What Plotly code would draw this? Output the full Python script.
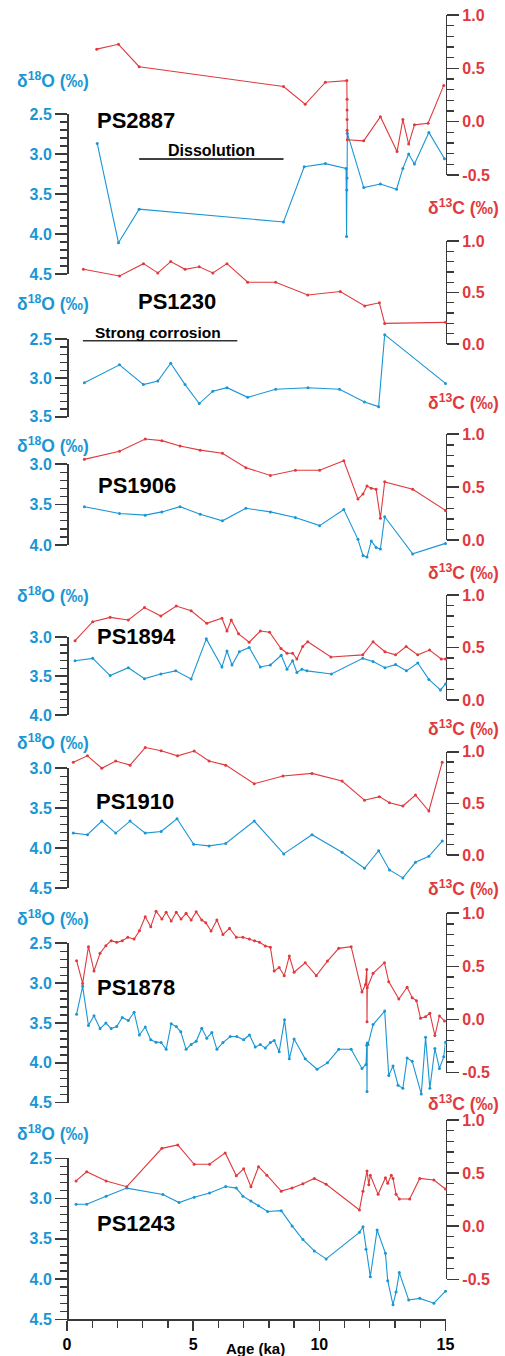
import numpy as np
import plotly.graph_objects as go

# ---------------- data (ages in ka, isotopes in permil) ----------------
x_ticks = [0, 5, 10, 15]

age_2887_c = [1.18, 2.04, 2.86, 8.58, 9.44, 10.24, 11.09, 11.10, 11.10, 11.10, 11.10, 11.11,
              11.76, 12.42, 13.08, 13.31, 13.54, 13.77, 14.31, 14.93]
d13c_2887 = [0.68, 0.725, 0.515, 0.33, 0.163, 0.37, 0.385, 0.21, 0.11, 0.02, -0.08, -0.17,
             -0.18, 0.047, -0.28, 0.02, -0.21, -0.03, -0.015, 0.34]
age_2887_o = [1.2, 2.04, 2.86, 8.58, 9.4, 10.24, 11.06, 11.08, 11.09, 11.10, 11.11, 11.76,
              12.42, 13.06, 13.31, 13.54, 13.77, 14.34, 14.96]
d18o_2887 = [2.87, 4.11, 3.69, 3.85, 3.16, 3.12, 3.18, 4.03, 3.45, 3.3, 2.74, 3.42,
             3.375, 3.44, 3.18, 3.0, 3.125, 2.73, 3.06]

age_1230_c = [0.65, 2.08, 3.03, 3.6, 4.11, 4.68, 5.24, 5.78, 6.34, 7.16, 8.27, 9.54,
              10.83, 11.8, 12.38, 12.59, 15.0]
d13c_1230 = [0.725, 0.66, 0.78, 0.69, 0.80, 0.725, 0.75, 0.69, 0.78, 0.60, 0.60, 0.476,
             0.51, 0.37, 0.40, 0.20, 0.21]
age_1230_o = [0.69, 2.08, 3.03, 3.6, 4.11, 4.68, 5.24, 5.78, 6.34, 7.16, 8.27, 9.55,
              10.8, 11.79, 12.35, 12.59, 15.0]
d18o_1230 = [3.06, 2.83, 3.085, 3.04, 2.81, 3.085, 3.33, 3.17, 3.125, 3.25, 3.146, 3.125,
             3.146, 3.31, 3.37, 2.44, 3.07]

age_1906 = [0.69, 2.08, 3.1, 3.76, 4.48, 5.28, 6.16, 7.09, 8.06, 9.05, 10.01, 10.97,
            11.53, 11.73, 11.89, 12.06, 12.25, 12.42, 12.59, 13.7, 15.0]
d13c_1906 = [0.763, 0.84, 0.955, 0.94, 0.89, 0.85, 0.82, 0.684, 0.61, 0.66, 0.66, 0.75,
             0.388, 0.435, 0.51, 0.49, 0.48, 0.205, 0.55, 0.48, 0.28]
d18o_1906 = [3.525, 3.61, 3.63, 3.59, 3.525, 3.62, 3.70, 3.545, 3.59, 3.66, 3.76, 3.56,
             3.93, 4.13, 4.15, 3.95, 4.03, 4.05, 3.65, 4.11, 3.98]

age_1894_c = [0.32, 1.02, 1.71, 2.43, 3.07, 3.72, 4.33, 4.92, 5.54, 6.14, 6.34, 6.51,
              6.8, 7.22, 7.66, 8.03, 8.48, 8.72, 8.94, 9.11, 9.34, 9.54, 10.46, 11.72,
              12.13, 12.6, 13.02, 13.44, 13.9, 14.37, 14.83, 15.0]
d13c_1894 = [0.565, 0.746, 0.787, 0.762, 0.88, 0.80, 0.895, 0.85, 0.73, 0.778, 0.657, 0.762,
             0.63, 0.55, 0.657, 0.645, 0.49, 0.445, 0.445, 0.39, 0.51, 0.555, 0.41, 0.43,
             0.555, 0.46, 0.43, 0.51, 0.43, 0.476, 0.39, 0.39]
age_1894_o = [0.32, 1.02, 1.71, 2.43, 3.07, 3.72, 4.31, 4.92, 5.52, 6.14, 6.34, 6.54,
              6.83, 7.22, 7.66, 8.06, 8.49, 8.72, 8.94, 9.11, 9.31, 9.51, 10.48, 11.72,
              12.13, 12.6, 13.02, 13.45, 13.9, 14.34, 14.8, 15.0]
d18o_1894 = [3.30, 3.27, 3.49, 3.39, 3.53, 3.47, 3.43, 3.535, 3.02, 3.38, 3.175, 3.355,
             3.185, 3.13, 3.38, 3.355, 3.23, 3.41, 3.30, 3.45, 3.41, 3.43, 3.47, 3.27,
             3.31, 3.39, 3.35, 3.43, 3.33, 3.54, 3.675, 3.60]

age_1910_c = [0.25, 0.81, 1.38, 1.93, 2.5, 3.1, 3.73, 4.38, 5.04, 5.63, 6.29, 7.42,
              8.56, 9.71, 10.9, 11.79, 12.38, 12.78, 13.31, 13.81, 14.34, 14.87]
d13c_1910 = [0.897, 0.96, 0.84, 0.91, 0.87, 1.04, 1.01, 0.96, 1.007, 0.91, 0.87, 0.69,
             0.765, 0.79, 0.716, 0.53, 0.565, 0.506, 0.474, 0.58, 0.426, 0.897]
age_1910_o = [0.25, 0.81, 1.38, 1.93, 2.5, 3.1, 3.73, 4.36, 5.02, 5.63, 6.29, 7.42,
              8.59, 9.71, 10.9, 11.79, 12.35, 12.78, 13.31, 13.81, 14.34, 14.87]
d18o_1910 = [3.81, 3.83, 3.66, 3.81, 3.66, 3.81, 3.79, 3.63, 3.95, 3.97, 3.94, 3.66,
             4.07, 3.83, 4.05, 4.25, 4.03, 4.27, 4.37, 4.175, 4.10, 3.91]

age_1878_c = [0.38, 0.62, 0.85, 1.07, 1.31, 1.54, 1.75, 1.97, 2.19, 2.41, 2.66, 2.87,
              3.1, 3.32, 3.53, 3.76, 3.93, 4.13, 4.33, 4.52, 4.72, 4.92, 5.12, 5.34,
              5.5, 5.71, 5.94, 6.18, 6.44, 6.71, 6.97, 7.23, 7.43, 7.63, 7.86, 8.06,
              8.21, 8.41, 8.61, 8.81, 9.0, 9.44, 9.88, 10.32, 10.77, 11.26, 11.69, 11.83,
              11.88, 11.89, 11.90, 12.13, 12.58, 12.75, 13.15, 13.48, 13.68, 13.85, 14.01,
              14.21, 14.38, 14.58, 14.76, 14.96]
d13c_1878 = [0.554, 0.34, 0.686, 0.457, 0.624, 0.695, 0.742, 0.727, 0.742, 0.774, 0.758, 0.836,
             0.968, 0.874, 1.02, 0.946, 1.01, 0.928, 1.01, 0.946, 1.0, 0.937, 1.015, 0.937,
             0.912, 0.834, 0.937, 0.80, 0.859, 0.774, 0.774, 0.758, 0.742, 0.727, 0.692, 0.68,
             0.457, 0.49, 0.413, 0.598, 0.445, 0.535, 0.413, 0.55, 0.67, 0.686, 0.26, 0.33,
             0.47, -0.02, 0.30, 0.436, 0.535, 0.357, 0.194, 0.304, 0.206, 0.178, 0.012,
             0.027, 0.06, -0.15, 0.034, -0.013]
age_1878_o = [0.38, 0.62, 0.85, 1.07, 1.31, 1.54, 1.75, 1.97, 2.19, 2.43, 2.66, 2.87,
              3.1, 3.32, 3.53, 3.73, 3.93, 4.13, 4.33, 4.51, 4.72, 4.92, 5.12, 5.34,
              5.54, 5.74, 5.94, 6.18, 6.47, 6.73, 7.0, 7.23, 7.46, 7.66, 7.86, 8.06,
              8.21, 8.41, 8.62, 8.81, 9.0, 9.44, 9.91, 10.32, 10.77, 11.26, 11.69, 11.85,
              11.88, 11.89, 11.90, 11.93, 12.13, 12.59, 12.75, 12.92, 13.12, 13.31, 13.48,
              13.68, 14.04, 14.21, 14.38, 14.58, 14.76, 14.93, 15.0]
d18o_1878 = [3.39, 3.04, 3.53, 3.41, 3.57, 3.50, 3.57, 3.545, 3.43, 3.47, 3.365, 3.65,
             3.55, 3.71, 3.74, 3.745, 3.83, 3.51, 3.545, 3.61, 3.83, 3.77, 3.73, 3.565,
             3.69, 3.62, 3.83, 3.745, 3.67, 3.67, 3.71, 3.65, 3.80, 3.77, 3.815, 3.745,
             3.72, 3.86, 3.46, 3.95, 3.70, 3.95, 4.08, 4.0, 3.83, 3.83, 4.07, 4.02,
             3.78, 4.36, 3.75, 3.77, 3.52, 3.35, 4.16, 4.04, 4.28, 4.32, 3.94,
             3.98, 4.39, 3.68, 4.32, 3.82, 4.07, 3.925, 3.74]

age_1243_c = [0.36, 0.78, 1.55, 2.37, 3.76, 4.39, 5.04, 5.65, 6.27, 6.71, 7.0, 7.29,
              7.59, 7.92, 8.49, 8.92, 9.35, 9.8, 10.27, 11.59, 11.73, 11.89, 11.96, 12.02,
              12.33, 12.62, 12.71, 12.85, 12.92, 13.04, 13.17, 13.58, 13.98, 14.54, 15.0]
d13c_1243 = [0.426, 0.513, 0.426, 0.372, 0.733, 0.765, 0.583, 0.583, 0.69, 0.475, 0.54, 0.372,
             0.56, 0.48, 0.33, 0.36, 0.40, 0.45, 0.395, 0.153, 0.33, 0.52, 0.39, 0.48,
             0.30, 0.457, 0.404, 0.48, 0.45, 0.30, 0.256, 0.256, 0.45, 0.435, 0.35]
age_1243_o = [0.36, 0.78, 1.55, 2.37, 3.8, 4.44, 5.04, 5.65, 6.29, 6.71, 6.97, 7.29,
              7.59, 7.95, 8.49, 8.92, 9.35, 9.8, 10.27, 11.59, 11.73, 11.85, 12.02, 12.29,
              12.62, 12.71, 12.92, 13.04, 13.17, 13.54, 13.98, 14.54, 15.0]
d18o_1243 = [3.07, 3.07, 2.97, 2.87, 2.95, 3.05, 2.985, 2.93, 2.85, 2.87, 2.97, 3.03,
             3.09, 3.16, 3.15, 3.34, 3.51, 3.65, 3.75, 3.42, 3.35, 3.63, 3.97, 3.39,
             3.68, 4.02, 4.32, 4.16, 3.92, 4.26, 4.24, 4.30, 4.15]

dissolution_interval = [2.86, 8.58]
corrosion_interval = [0.63, 6.75]

# ---------------- styling / layout geometry ----------------
W, H = 505, 1356
BLUE = "#1a96d5"
RED = "#e03a3e"
AXC = "#3a3a3a"
FONT = "Liberation Sans, Arial, sans-serif"
X0_PX, X1_PX = 67.0, 445.5
XAXIS_PX = 1319.3


def fx(px):
    return px / W


def fy(py):
    return 1 - py / H


# per panel: left (value at top px, top px, value at bottom, bottom px), right likewise
panels = [
    dict(name="PS2887", ao=age_2887_o, o=d18o_2887, ac=age_2887_c, c=d13c_2887,
         L=(2.5, 114.0, 4.5, 274.0), R=(1.0, 15.0, -0.5, 175.0),
         name_xy=(136, 120), lo=80, lc=207),
    dict(name="PS1230", ao=age_1230_o, o=d18o_1230, ac=age_1230_c, c=d13c_1230,
         L=(2.5, 339.3, 3.5, 416.7), R=(1.0, 241.0, 0.0, 344.0),
         name_xy=(177, 302), lo=303, lc=402),
    dict(name="PS1906", ao=age_1906, o=d18o_1906, ac=age_1906, c=d13c_1906,
         L=(3.0, 464.3, 4.0, 545.0), R=(1.0, 434.3, 0.0, 540.0),
         name_xy=(137, 485), lo=445, lc=572),
    dict(name="PS1894", ao=age_1894_o, o=d18o_1894, ac=age_1894_c, c=d13c_1894,
         L=(3.0, 637.3, 4.0, 715.3), R=(1.0, 595.0, 0.0, 700.0),
         name_xy=(136, 636), lo=595, lc=728),
    dict(name="PS1910", ao=age_1910_o, o=d18o_1910, ac=age_1910_c, c=d13c_1910,
         L=(3.0, 768.3, 4.5, 888.3), R=(1.0, 751.7, 0.0, 855.0),
         name_xy=(135, 802), lo=742, lc=888),
    dict(name="PS1878", ao=age_1878_o, o=d18o_1878, ac=age_1878_c, c=d13c_1878,
         L=(2.5, 943.3, 4.5, 1102.7), R=(1.0, 913.3, -0.5, 1072.7),
         name_xy=(136, 988), lo=918, lc=1103),
    dict(name="PS1243", ao=age_1243_o, o=d18o_1243, ac=age_1243_c, c=d13c_1243,
         L=(2.5, 1158.3, 4.5, XAXIS_PX), R=(1.0, 1120.0, -0.5, 1279.3),
         name_xy=(136, 1223), lo=1133, lc=None),
]


def axname(n):
    return "yaxis" if n == 1 else f"yaxis{n}"


def visible_axis(cal, side, color):
    vtop, ptop, vbot, pbot = cal
    lo, hi = min(vtop, vbot), max(vtop, vbot)
    major = [round(v, 2) for v in np.arange(lo, hi + 1e-9, 0.5)]
    minor = [round(v, 2) for v in np.arange(lo, hi + 1e-9, 0.1)]
    return dict(
        domain=[fy(pbot), fy(ptop)], range=[vbot, vtop],
        anchor="free", position=fx(X0_PX) if side == "left" else fx(X1_PX), side=side,
        showline=True, linecolor=AXC, linewidth=1.6,
        ticks="outside", ticklen=12, tickwidth=1.6, tickcolor=AXC,
        tickvals=major, ticktext=[f"{v:.1f}" for v in major],
        tickfont=dict(family=FONT, size=16, color=color, weight="bold"),
        minor=dict(tickvals=minor, ticks="outside", ticklen=7, tickwidth=1.3,
                   tickcolor=AXC, showgrid=False),
        showgrid=False, zeroline=False, fixedrange=True, automargin=False,
    )


def data_axis(cal):
    vtop, ptop, vbot, pbot = cal
    k = (vbot - vtop) / (pbot - ptop)
    return dict(domain=[0, 1], range=[vtop + (H - ptop) * k, vtop + (0 - ptop) * k],
                visible=False, anchor="x", fixedrange=True, showgrid=False, zeroline=False)


fig = go.Figure()
layout_axes = {}
annotations = []
n_p = len(panels)

for i, p in enumerate(panels):
    vl, vr = 2 * i + 1, 2 * i + 2
    dl, dr = 2 * n_p + 2 * i + 1, 2 * n_p + 2 * i + 2
    layout_axes[axname(vl)] = visible_axis(p["L"], "left", BLUE)
    layout_axes[axname(vr)] = visible_axis(p["R"], "right", RED)
    layout_axes[axname(dl)] = data_axis(p["L"])
    layout_axes[axname(dr)] = data_axis(p["R"])

    # empty traces so that the visible scale axes are registered and drawn
    for va in (vl, vr):
        fig.add_trace(go.Scatter(x=[None], y=[None], xaxis="x",
                                 yaxis="y" if va == 1 else f"y{va}", mode="lines",
                                 showlegend=False, hoverinfo="skip"))

    fig.add_trace(go.Scatter(x=p["ac"], y=p["c"], xaxis="x", yaxis=f"y{dr}",
                             mode="lines+markers", line=dict(color=RED, width=1.1),
                             marker=dict(color=RED, size=3), cliponaxis=False,
                             showlegend=False, hoverinfo="skip"))
    fig.add_trace(go.Scatter(x=p["ao"], y=p["o"], xaxis="x", yaxis=f"y{dl}",
                             mode="lines+markers", line=dict(color=BLUE, width=1.1),
                             marker=dict(color=BLUE, size=3), cliponaxis=False,
                             showlegend=False, hoverinfo="skip"))

    annotations.append(dict(text=p["name"], x=fx(p["name_xy"][0]), y=fy(p["name_xy"][1]),
                            xref="paper", yref="paper", showarrow=False,
                            xanchor="center", yanchor="middle",
                            font=dict(family=FONT, size=22, color="black", weight="bold")))
    annotations.append(dict(text="δ<sup>18</sup>O (‰)", x=fx(52.5), y=fy(p["lo"]),
                            xref="paper", yref="paper", showarrow=False,
                            xanchor="center", yanchor="middle",
                            font=dict(family=FONT, size=17.5, color=BLUE, weight="bold")))
    if p["lc"] is not None:
        annotations.append(dict(text="δ<sup>13</sup>C (‰)", x=fx(463.5), y=fy(p["lc"]),
                                xref="paper", yref="paper", showarrow=False,
                                xanchor="center", yanchor="middle",
                                font=dict(family=FONT, size=17.5, color=RED, weight="bold")))

annotations += [
    dict(text="Dissolution", x=fx(211), y=fy(150.5), xref="paper", yref="paper",
         showarrow=False, xanchor="center", yanchor="middle",
         font=dict(family=FONT, size=16, color="black", weight="bold")),
    dict(text="Strong corrosion", x=fx(158), y=fy(332.5), xref="paper", yref="paper",
         showarrow=False, xanchor="center", yanchor="middle",
         font=dict(family=FONT, size=15.5, color="black", weight="bold")),
    dict(text="Age (ka)", x=fx(255), y=fy(1348), xref="paper", yref="paper",
         showarrow=False, xanchor="center", yanchor="middle",
         font=dict(family=FONT, size=15, color="black", weight="bold")),
]

shapes = [
    dict(type="line", xref="x", yref="paper", x0=dissolution_interval[0],
         x1=dissolution_interval[1], y0=fy(159), y1=fy(159),
         line=dict(color="black", width=1.5)),
    dict(type="line", xref="x", yref="paper", x0=corrosion_interval[0],
         x1=corrosion_interval[1], y0=fy(340.7), y1=fy(340.7),
         line=dict(color="#333333", width=1.5)),
]

fig.update_layout(
    width=W, height=H, autosize=False,
    margin=dict(l=0, r=0, t=0, b=0, pad=0),
    paper_bgcolor="white", plot_bgcolor="rgba(0,0,0,0)",
    showlegend=False,
    xaxis=dict(domain=[fx(X0_PX), fx(X1_PX)], range=[0, 15], anchor="free",
               position=fy(XAXIS_PX), showline=True, linecolor=AXC, linewidth=1.6,
               ticks="outside", ticklen=10, tickwidth=1.6, tickcolor=AXC,
               tickvals=x_ticks, ticktext=[str(t) for t in x_ticks],
               tickfont=dict(family=FONT, size=16, color="black", weight="bold"),
               minor=dict(dtick=1, ticks="outside", ticklen=7, tickwidth=1.3,
                          tickcolor=AXC, showgrid=False),
               showgrid=False, zeroline=False, fixedrange=True, automargin=False),
    annotations=annotations,
    shapes=shapes,
    **layout_axes,
)

# remove the browser's default 8px page margin so the figure fills the window exactly
fig.write_html("out.html", config={"displayModeBar": False, "staticPlot": True},
               post_script="document.body.style.margin='0';document.body.style.overflow='hidden';")
